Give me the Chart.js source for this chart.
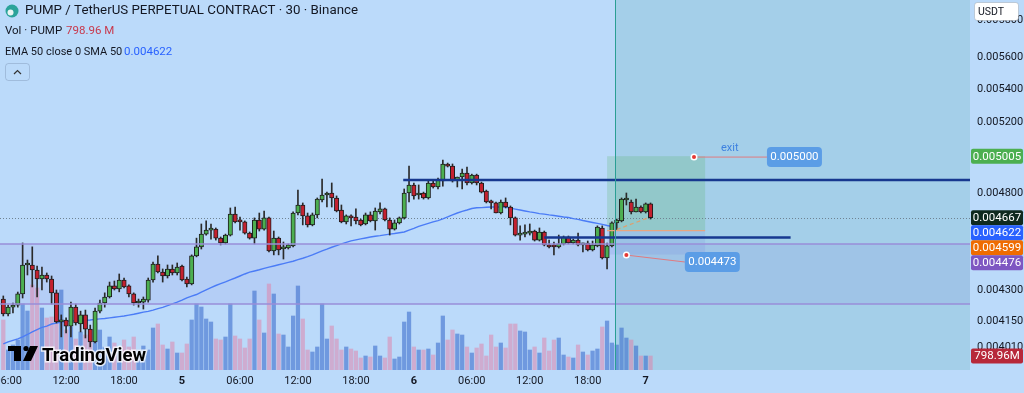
<!DOCTYPE html>
<html><head><meta charset="utf-8">
<script src="https://cdn.jsdelivr.net/npm/chart.js@4.4.1/dist/chart.umd.min.js"></script>
<style>html,body{margin:0;padding:0;background:#bbdafa;overflow:hidden}#wrap{width:1024px;height:393px;position:relative}</style>
</head><body><div id="wrap"><canvas id="c" width="1024" height="393"></canvas></div>
<script>
// ---------- DATA (30-minute candles, PUMP/USDT perpetual) ----------
const opens = [0.004255,0.004184,0.004216,0.004226,0.004280,0.004423,0.004423,0.004398,0.004353,0.004373,
0.004353,0.004285,0.004146,0.004155,0.004126,0.004216,0.004136,0.004179,0.004112,0.004053,
0.004197,0.004236,0.004265,0.004319,0.004304,0.004348,0.004319,0.004280,0.004236,0.004240,
0.004250,0.004348,0.004428,0.004388,0.004368,0.004403,0.004383,0.004418,0.004353,0.004329,
0.004469,0.004515,0.004581,0.004602,0.004607,0.004560,0.004535,0.004576,0.004687,0.004650,
0.004645,0.004586,0.004560,0.004655,0.004607,0.004666,0.004494,0.004560,0.004504,0.004509,
0.004520,0.004692,0.004735,0.004677,0.004629,0.004682,0.004762,0.004789,0.004800,0.004773,
0.004708,0.004645,0.004677,0.004671,0.004655,0.004634,0.004682,0.004650,0.004698,0.004714,
0.004655,0.004607,0.004640,0.004666,0.004800,0.004844,0.004789,0.004800,0.004773,0.004855,
0.004833,0.004866,0.004961,0.004949,0.004871,0.004888,0.004910,0.004855,0.004899,0.004855,
0.004811,0.004751,0.004746,0.004692,0.004751,0.004724,0.004666,0.004576,0.004581,0.004586,
0.004597,0.004550,0.004592,0.004525,0.004520,0.004515,0.004530,0.004566,0.004535,0.004550,
0.004525,0.004535,0.004499,0.004520,0.004613,0.004458,0.004520,0.004640,0.004650,0.004762,
0.004751,0.004698,0.004724,0.004698,0.004741];
const highs = [0.004270,0.004226,0.004236,0.004289,0.004535,0.004448,0.004515,0.004418,0.004413,0.004383,
0.004368,0.004299,0.004179,0.004165,0.004240,0.004231,0.004197,0.004202,0.004131,0.004211,
0.004250,0.004285,0.004338,0.004343,0.004378,0.004358,0.004324,0.004285,0.004255,0.004265,
0.004358,0.004438,0.004469,0.004403,0.004423,0.004423,0.004433,0.004423,0.004363,0.004474,
0.004560,0.004634,0.004650,0.004634,0.004613,0.004566,0.004581,0.004719,0.004724,0.004671,
0.004650,0.004592,0.004666,0.004692,0.004703,0.004671,0.004597,0.004566,0.004540,0.004530,
0.004698,0.004816,0.004746,0.004692,0.004692,0.004773,0.004877,0.004805,0.004855,0.004784,
0.004735,0.004682,0.004682,0.004714,0.004660,0.004692,0.004698,0.004719,0.004746,0.004719,
0.004666,0.004655,0.004671,0.004822,0.004949,0.004855,0.004844,0.004805,0.004866,0.004866,
0.004882,0.004983,0.004966,0.004961,0.004888,0.004932,0.004944,0.004904,0.004904,0.004860,
0.004816,0.004762,0.004751,0.004762,0.004773,0.004730,0.004671,0.004624,0.004629,0.004634,
0.004602,0.004613,0.004597,0.004550,0.004540,0.004576,0.004571,0.004571,0.004555,0.004586,
0.004535,0.004545,0.004545,0.004624,0.004624,0.004535,0.004645,0.004660,0.004773,0.004800,
0.004762,0.004767,0.004730,0.004746,0.004746];
const lows = [0.004174,0.004174,0.004188,0.004216,0.004260,0.004373,0.004314,0.004265,0.004299,0.004338,
0.004231,0.004141,0.004076,0.004094,0.004076,0.004131,0.004099,0.004071,0.004030,0.004048,
0.004188,0.004216,0.004260,0.004299,0.004290,0.004309,0.004265,0.004226,0.004216,0.004207,
0.004240,0.004338,0.004383,0.004338,0.004358,0.004373,0.004373,0.004343,0.004314,0.004324,
0.004464,0.004504,0.004576,0.004555,0.004550,0.004525,0.004530,0.004571,0.004640,0.004602,
0.004581,0.004555,0.004530,0.004597,0.004602,0.004489,0.004474,0.004474,0.004453,0.004504,
0.004515,0.004682,0.004629,0.004618,0.004624,0.004666,0.004751,0.004724,0.004724,0.004698,
0.004640,0.004634,0.004624,0.004634,0.004624,0.004629,0.004645,0.004602,0.004687,0.004650,
0.004576,0.004602,0.004634,0.004660,0.004751,0.004767,0.004767,0.004767,0.004767,0.004827,
0.004822,0.004838,0.004944,0.004860,0.004833,0.004822,0.004844,0.004849,0.004844,0.004800,
0.004746,0.004714,0.004692,0.004687,0.004719,0.004629,0.004571,0.004550,0.004566,0.004576,
0.004545,0.004545,0.004520,0.004509,0.004474,0.004509,0.004525,0.004530,0.004530,0.004520,
0.004489,0.004494,0.004494,0.004515,0.004453,0.004403,0.004515,0.004602,0.004645,0.004735,
0.004687,0.004698,0.004692,0.004692,0.004660];
const closes = [0.004184,0.004216,0.004226,0.004280,0.004423,0.004428,0.004398,0.004353,0.004373,0.004353,
0.004285,0.004146,0.004155,0.004126,0.004216,0.004141,0.004179,0.004112,0.004053,0.004197,
0.004236,0.004265,0.004319,0.004304,0.004348,0.004314,0.004280,0.004236,0.004245,0.004255,
0.004348,0.004428,0.004388,0.004368,0.004403,0.004383,0.004413,0.004348,0.004329,0.004469,
0.004515,0.004581,0.004602,0.004607,0.004560,0.004535,0.004576,0.004687,0.004645,0.004645,
0.004586,0.004560,0.004655,0.004607,0.004666,0.004494,0.004560,0.004499,0.004515,0.004525,
0.004692,0.004735,0.004677,0.004629,0.004682,0.004767,0.004789,0.004800,0.004773,0.004703,
0.004645,0.004677,0.004666,0.004650,0.004629,0.004682,0.004650,0.004703,0.004714,0.004655,
0.004607,0.004640,0.004666,0.004800,0.004844,0.004784,0.004800,0.004773,0.004855,0.004833,
0.004871,0.004961,0.004949,0.004866,0.004888,0.004910,0.004855,0.004899,0.004855,0.004805,
0.004751,0.004746,0.004692,0.004751,0.004724,0.004666,0.004576,0.004581,0.004586,0.004597,
0.004550,0.004592,0.004525,0.004515,0.004515,0.004530,0.004566,0.004535,0.004550,0.004525,
0.004535,0.004499,0.004525,0.004618,0.004458,0.004520,0.004640,0.004655,0.004767,0.004767,
0.004698,0.004724,0.004698,0.004741,0.004667];
// volume in millions of PUMP
const volumes = [2854,1141,1427,1712,3767,3367,4851,4680,3538,2968,
3025,2682,4566,2283,2454,1769,2169,1997,1712,2682,
2283,1313,1883,1541,1313,1712,1313,1883,1141,1370,
1141,2397,2625,1427,1198,1598,970,970,1484,2854,
3767,3595,2911,2739,1769,1712,1883,3767,1940,1769,
1256,1769,4509,2854,2112,4908,4337,2055,1997,1313,
3082,4794,2911,1141,1027,1313,3767,1769,2511,1769,
1141,1313,1198,1084,685,799,742,1370,799,685,
1883,628,742,2739,3310,1313,1141,1141,1198,856,
1541,3082,1712,2283,2055,1997,1313,970,1256,1484,
799,1997,1313,1541,1256,2625,2625,2226,2169,1141,
1313,970,1826,1084,1712,1826,856,742,685,1427,
1027,856,1084,1198,2454,2796,1541,1427,2397,1826,
1712,1370,799,799,798.96];
// EMA 50 line as drawn (hidden under the position tool after the marker)
const ema50 = [0.004044,0.004053,0.004060,0.004067,0.004076,0.004087,0.004099,0.004110,0.004120,0.004126,
0.004136,0.004141,0.004145,0.004149,0.004150,0.004152,0.004153,0.004154,0.004155,0.004158,
0.004160,0.004162,0.004165,0.004168,0.004171,0.004174,0.004178,0.004182,0.004187,0.004192,
0.004196,0.004202,0.004209,0.004215,0.004223,0.004232,0.004240,0.004250,0.004261,0.004269,
0.004277,0.004289,0.004300,0.004311,0.004321,0.004330,0.004339,0.004349,0.004358,0.004368,
0.004378,0.004387,0.004393,0.004399,0.004406,0.004412,0.004418,0.004424,0.004430,0.004436,
0.004442,0.004450,0.004457,0.004465,0.004474,0.004484,0.004494,0.004503,0.004513,0.004521,
0.004530,0.004538,0.004546,0.004551,0.004556,0.004561,0.004566,0.004570,0.004573,0.004577,
0.004581,0.004584,0.004588,0.004592,0.004602,0.004611,0.004621,0.004629,0.004637,0.004645,
0.004652,0.004661,0.004671,0.004682,0.004692,0.004701,0.004708,0.004716,0.004720,0.004721,
0.004723,0.004724,0.004724,0.004724,0.004724,0.004718,0.004713,0.004708,0.004703,0.004698,
0.004694,0.004689,0.004686,0.004682,0.004679,0.004675,0.004671,0.004668,0.004662,0.004658,
0.004652,0.004647,0.004642,0.004637,0.004632,0.004626,0.004621];
const timeTickIndex  = [1,13,25,37,49,61,73,85,97,109,121,133];
const timeTickLabels = ['06:00','12:00','18:00','5','06:00','12:00','18:00','6','06:00','12:00','18:00','7'];
const priceTickValues = [0.00584,0.0056,0.0054,0.0052,0.0050,0.0048,0.0043,0.00415,0.00403];
const priceTickLabels = ['0.005800','0.005600','0.005400','0.005200','0.005000','0.004800','0.004300','0.004150','0.004010'];
// drawings
const lastPrice = 0.004667, emaLast = 0.004622, lastVolumeText = '798.96 M';
const markerIndex = 126.65;
const bandTop = 0.00453, bandBottom = 0.004231;
const resistanceLevel = 0.004871, resistanceFrom = 82.8;
const supportLevel = 0.004563, supportFrom = 112, supportTo = 163;
const longFrom = 125, longTo = 145.3, longEntry = 0.004599, longTarget = 0.005005, longStop = 0.004476;
const pnlFrom = [127, 0.004605], pnlTo = [133.6, 0.004667];
const exitNote = {index:143, price:0.005000, labelIndex:158.1, labelPrice:0.005000, text:'0.005000', title:'exit', titleIndex:150.4};
const stopNote = {index:129, price:0.004473, labelIndex:141.1, labelPrice:0.004438, text:'0.004473'};
const axisTags = [
  {value:0.005005, text:'0.005005', bg:'#4caf50', fg:'#ffffff'},
  {value:0.004667, text:'0.004667', bg:'#0f2a1f', fg:'#ffffff'},
  {value:0.004622, text:'0.004622', bg:'#2962ff', fg:'#ffffff'},
  {value:0.004599, text:'0.004599', bg:'#ef6c00', fg:'#ffffff'},
  {value:0.004476, text:'0.004476', bg:'#7e57c2', fg:'#ffffff'}
];

// ---------- STYLE ----------
const FONT = "Roboto, 'Noto Sans', 'DejaVu Sans', sans-serif";
const BG = '#bbdafa';
const TEAL_ZONE = '#a4cfe9';
const UP = '#4caf50', DOWN = '#c4212f', EDGE = '#1e1e1e';
const VOL_UP = 'rgba(50,100,200,0.55)', VOL_DOWN = 'rgba(225,125,165,0.5)';
const X_MIN = -0.683, X_MAX = 200.14;
const PRICE_MIN = 0.0039254, PRICE_MAX = 0.0059771;
const VOL_MAX = 21116;

const idx = closes.map((_, i) => i);
const isUp = idx.map(i => closes[i] >= opens[i]);

function seg(ctx, x1, y1, x2, y2){ ctx.beginPath(); ctx.moveTo(x1,y1); ctx.lineTo(x2,y2); ctx.stroke(); }
function rrect(ctx, x, y, w, h, r){ ctx.beginPath(); ctx.moveTo(x+r,y); ctx.lineTo(x+w-r,y); ctx.quadraticCurveTo(x+w,y,x+w,y+r); ctx.lineTo(x+w,y+h-r); ctx.quadraticCurveTo(x+w,y+h,x+w-r,y+h); ctx.lineTo(x+r,y+h); ctx.quadraticCurveTo(x,y+h,x,y+h-r); ctx.lineTo(x,y+r); ctx.quadraticCurveTo(x,y,x+r,y); ctx.closePath(); }

const overlay = {
  id: 'overlay',
  beforeDraw(chart){
    const c = chart.ctx; c.save(); c.fillStyle = BG; c.fillRect(0,0,chart.width,chart.height); c.restore();
  },
  beforeDatasetsDraw(chart){
    const {ctx, chartArea:a, scales:{x, y}} = chart;
    const X = v => x.getPixelForValue(v), Y = v => y.getPixelForValue(v);
    ctx.save();
    const vx = X(markerIndex);
    ctx.fillStyle = TEAL_ZONE; ctx.fillRect(vx, a.top, a.right - vx, a.bottom - a.top);
    ctx.fillStyle = 'rgba(110,90,210,0.09)';
    ctx.fillRect(a.left, Y(bandTop), a.right - a.left, Y(bandBottom) - Y(bandTop));
    const l1 = X(longFrom), l2 = X(longTo);
    ctx.fillStyle = 'rgba(76,175,80,0.2)'; ctx.fillRect(l1, Y(longTarget), l2 - l1, Y(longEntry) - Y(longTarget));
    ctx.fillStyle = 'rgba(100,110,220,0.13)'; ctx.fillRect(l1, Y(longEntry), l2 - l1, Y(longStop) - Y(longEntry));
    ctx.strokeStyle = '#6f8392'; ctx.lineWidth = 1; ctx.setLineDash([1,2]);
    const yl = Math.round(Y(lastPrice)) + 0.5; seg(ctx, a.left, yl, a.right, yl);
    ctx.setLineDash([]);
    ctx.restore();
  },
  afterDatasetsDraw(chart){
    const {ctx, chartArea:a, scales:{x, y}} = chart;
    const X = v => x.getPixelForValue(v), Y = v => y.getPixelForValue(v);
    ctx.save();
    ctx.strokeStyle = '#988ed9'; ctx.lineWidth = 1.5;
    [bandTop, bandBottom].forEach(p => { const yy = Math.round(Y(p)); seg(ctx, a.left, yy, a.right, yy); });
    ctx.strokeStyle = '#e9a47f'; ctx.lineWidth = 1.2;
    seg(ctx, X(longFrom), Y(longEntry), X(longTo), Y(longEntry));
    ctx.setLineDash([4,3]); ctx.strokeStyle = '#df9f6e';
    seg(ctx, X(pnlFrom[0]), Y(pnlFrom[1]), X(pnlTo[0]), Y(pnlTo[1])); ctx.setLineDash([]);
    ctx.strokeStyle = '#17388f'; ctx.lineWidth = 2.6;
    seg(ctx, X(resistanceFrom), Y(resistanceLevel), a.right, Y(resistanceLevel));
    seg(ctx, X(supportFrom), Y(supportLevel), X(supportTo), Y(supportLevel));
    const vx = Math.round(X(markerIndex)) + 0.5;
    ctx.strokeStyle = '#2a9e94'; ctx.lineWidth = 1; seg(ctx, vx, a.top, vx, a.bottom);
    function note(n){
      const px = X(n.index), py = Y(n.price), lx = X(n.labelIndex), ly = Y(n.labelPrice);
      ctx.strokeStyle = '#e07a80'; ctx.lineWidth = 1; seg(ctx, px, py, lx, ly);
      ctx.fillStyle = '#ffffff'; ctx.beginPath(); ctx.arc(px, py, 3.5, 0, Math.PI*2); ctx.fill();
      ctx.fillStyle = '#e53935'; ctx.beginPath(); ctx.arc(px, py, 2, 0, Math.PI*2); ctx.fill();
      ctx.fillStyle = '#5b9de6'; rrect(ctx, lx, ly - 10, 55, 20, 4); ctx.fill();
      ctx.fillStyle = '#ffffff'; ctx.font = '11.5px ' + FONT; ctx.textAlign = 'center'; ctx.textBaseline = 'middle';
      ctx.fillText(n.text, lx + 27.5, ly + 0.5);
    }
    note(exitNote); note(stopNote);
    ctx.fillStyle = '#3f82e0'; ctx.font = '11px ' + FONT; ctx.textAlign = 'center'; ctx.textBaseline = 'middle';
    ctx.fillText(exitNote.title, X(exitNote.titleIndex), Y(exitNote.price) - 9);
    ctx.restore();
  },
  afterDraw(chart){
    const {ctx, chartArea:a, scales:{y, yv}} = chart;
    ctx.save();
    ctx.fillStyle = '#000000';
    ctx.fillRect(8, 346, 13, 5); ctx.fillRect(14, 346, 7, 15);
    ctx.beginPath(); ctx.arc(26, 348.5, 2.6, 0, Math.PI*2); ctx.fill();
    ctx.beginPath(); ctx.moveTo(30, 346); ctx.lineTo(38, 346); ctx.lineTo(31, 361); ctx.lineTo(23, 361); ctx.closePath(); ctx.fill();
    ctx.font = 'bold 18.5px ' + FONT; ctx.textAlign = 'left'; ctx.textBaseline = 'alphabetic';
    ctx.lineWidth = 3; ctx.strokeStyle = 'rgba(255,255,255,0.8)'; ctx.strokeText('TradingView', 42, 361);
    ctx.fillText('TradingView', 42, 361);
    ctx.textBaseline = 'middle';
    ctx.fillStyle = '#2aa39a'; ctx.beginPath(); ctx.arc(12, 11, 6.5, 0, Math.PI*2); ctx.fill();
    ctx.fillStyle = '#e9f5f2'; ctx.beginPath(); ctx.arc(10.5, 12.5, 3, 0, Math.PI*2); ctx.fill();
    ctx.fillStyle = '#131722'; ctx.font = '13.3px ' + FONT;
    ctx.fillText('PUMP / TetherUS PERPETUAL CONTRACT · 30 · Binance', 25, 11);
    ctx.font = '11.5px ' + FONT;
    ctx.fillText('Vol · PUMP', 5, 31);
    ctx.fillStyle = '#c8394d'; ctx.fillText(lastVolumeText, 66, 31);
    ctx.fillStyle = '#131722'; ctx.font = '11px ' + FONT;
    ctx.fillText('EMA 50 close 0 SMA 50', 5, 52);
    ctx.font = '11.5px ' + FONT;
    ctx.fillStyle = '#2962ff'; ctx.fillText(emaLast.toFixed(6), 124, 52);
    ctx.strokeStyle = 'rgba(80,100,130,0.25)'; ctx.lineWidth = 1; rrect(ctx, 5.5, 63.5, 24, 17, 3); ctx.stroke();
    ctx.strokeStyle = '#333'; ctx.lineWidth = 1.2; ctx.beginPath(); ctx.moveTo(14, 74); ctx.lineTo(17.5, 70.5); ctx.lineTo(21, 74); ctx.stroke();
    const tags = axisTags.map(t => ({...t, y: y.getPixelForValue(t.value)})).sort((p, q) => p.y - q.y);
    for (let i = 1; i < tags.length; i++) if (tags[i].y < tags[i-1].y + 15) tags[i].y = tags[i-1].y + 15;
    tags.push({text:'798.96M', bg:'#b7283a', fg:'#ffffff', y: yv.getPixelForValue(volumes[volumes.length-1])});
    ctx.font = '11.5px ' + FONT; ctx.textAlign = 'center';
    tags.forEach(t => { ctx.fillStyle = t.bg; rrect(ctx, a.right + 1, t.y - 7.5, 52, 15, 2); ctx.fill(); ctx.fillStyle = t.fg; ctx.fillText(t.text, a.right + 27, t.y + 0.5); });
    ctx.fillStyle = '#ffffff'; rrect(ctx, a.right + 4.5, 2.5, 44, 18, 3); ctx.fill();
    ctx.strokeStyle = 'rgba(0,0,0,0.15)'; ctx.lineWidth = 1; ctx.stroke();
    ctx.fillStyle = '#131722'; ctx.font = '10.5px ' + FONT; ctx.textAlign = 'left'; ctx.fillText('USDT', a.right + 8, 12);
    ctx.restore();
  }
};

new Chart(document.getElementById('c'), {
  type: 'bar',
  data: {
    datasets: [
      { type:'bar', data: idx.map(i => ({x:i, y:[Math.min(opens[i], closes[i]), Math.max(opens[i], closes[i])]})),
        backgroundColor: idx.map(i => isUp[i] ? UP : DOWN), borderColor: EDGE, borderWidth: 1, borderSkipped: false,
        barThickness: 4.4, minBarLength: 2, grouped: false, yAxisID: 'y', order: 1 },
      { type:'bar', data: idx.map(i => ({x:i, y:[lows[i], highs[i]]})),
        backgroundColor: '#2a2a2a', barThickness: 1, grouped: false, yAxisID: 'y', order: 2 },
      { type:'line', data: ema50.map((v, i) => ({x:i, y:v})), borderColor: '#4b7cf6', borderWidth: 1.4,
        pointRadius: 0, tension: 0, yAxisID: 'y', order: 3 },
      { type:'bar', data: idx.map(i => ({x:i, y:volumes[i]})), backgroundColor: idx.map(i => isUp[i] ? VOL_UP : VOL_DOWN),
        barThickness: 3.6, grouped: false, yAxisID: 'yv', order: 5 }
    ]
  },
  options: {
    responsive: false, animation: false, devicePixelRatio: 1,
    layout: { padding: 0 },
    plugins: { legend: { display: false }, tooltip: { enabled: false } },
    scales: {
      x: { type: 'linear', bounds: 'data', min: X_MIN, max: X_MAX, offset: false,
        grid: { display: false, drawTicks: false }, border: { display: false },
        afterBuildTicks: s => { s.ticks = timeTickIndex.map(v => ({value: v})); },
        afterFit: s => { s.height = 23; s.paddingLeft = 0; s.paddingRight = 0; },
        ticks: { autoSkip: false, maxRotation: 0, padding: 5, color: '#131722',
          font: c => ({ family: FONT, size: 11, weight: (c.tick && timeTickLabels[timeTickIndex.indexOf(c.tick.value)].length < 3) ? 'bold' : 'normal' }),
          callback: v => timeTickLabels[timeTickIndex.indexOf(v)] } },
      y: { type: 'logarithmic', bounds: 'data', position: 'right', min: PRICE_MIN, max: PRICE_MAX,
        grid: { display: false, drawTicks: false }, border: { display: false },
        afterBuildTicks: s => { s.ticks = priceTickValues.map(v => ({value: v})); },
        afterFit: s => { s.width = 54; s.paddingTop = 0; s.paddingBottom = 0; },
        ticks: { autoSkip: false, padding: 7, color: '#131722', font: { family: FONT, size: 11 },
          callback: v => priceTickLabels[priceTickValues.indexOf(v)] } },
      yv: { type: 'linear', display: false, min: 0, max: VOL_MAX }
    }
  },
  plugins: [overlay]
});
</script>
</body></html>
